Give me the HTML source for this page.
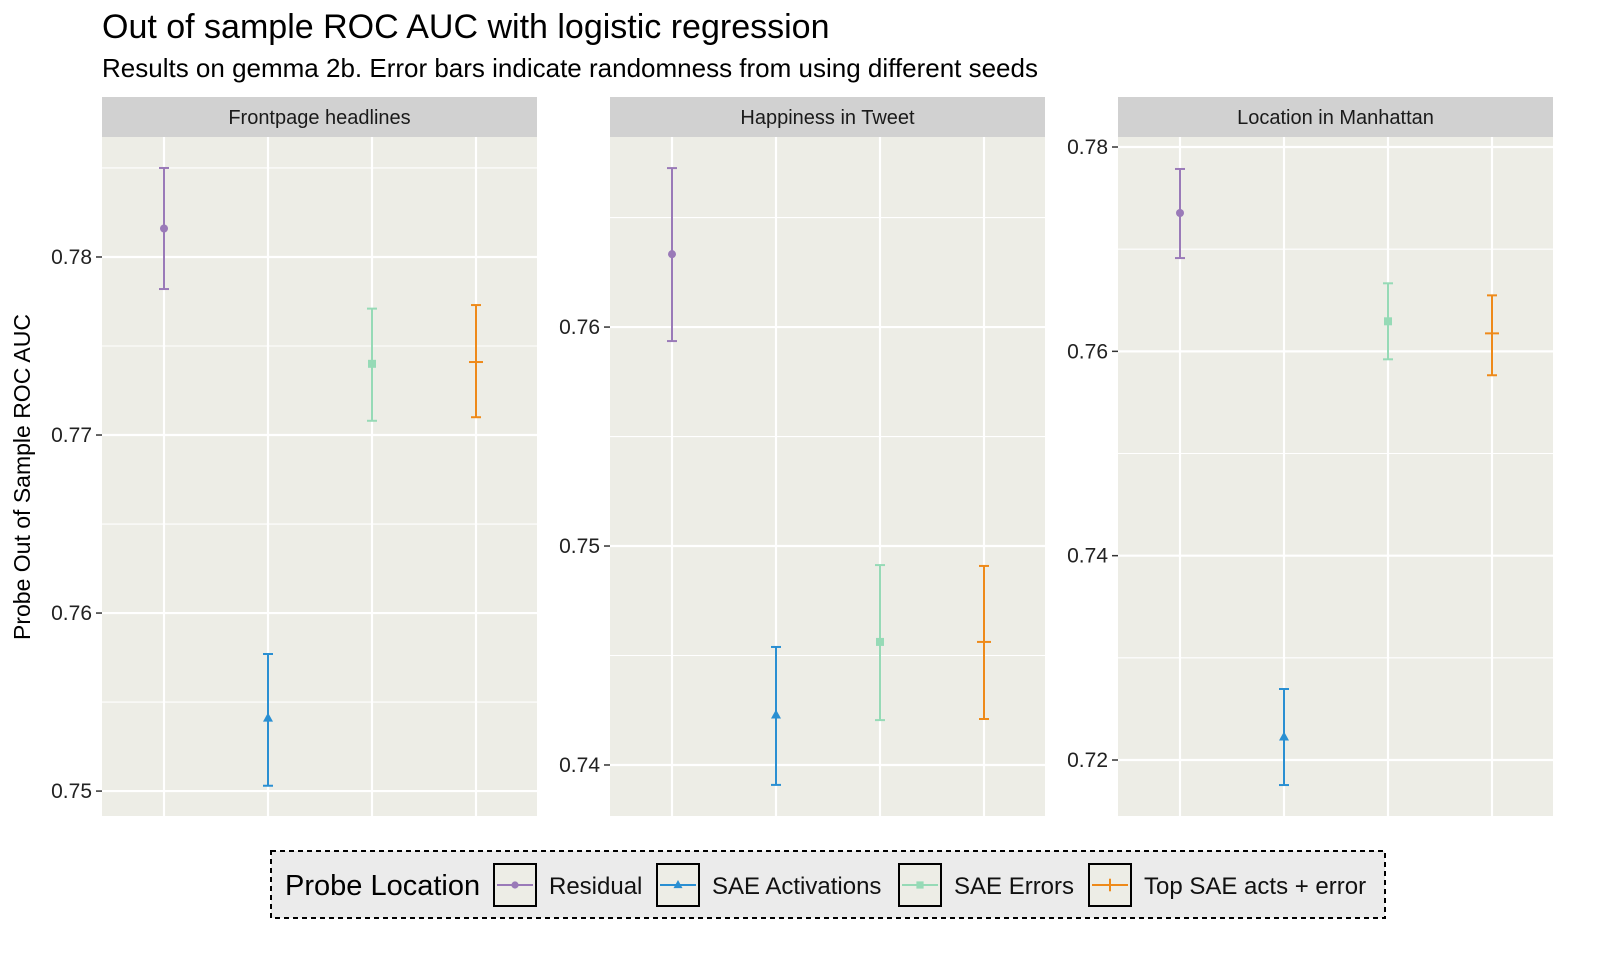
<!DOCTYPE html>
<html><head><meta charset="utf-8"><style>
body{margin:0;background:#fff;font-family:"Liberation Sans",Arial,sans-serif;}
svg text{font-family:"Liberation Sans",Arial,sans-serif;}
</style></head><body>
<svg id="chart" width="1600" height="951" xmlns="http://www.w3.org/2000/svg">
<text x="102" y="38" font-size="34" fill="#000">Out of sample ROC AUC with logistic regression</text>
<text x="102" y="77" font-size="26" fill="#000">Results on gemma 2b. Error bars indicate randomness from using different seeds</text>
<text transform="translate(30,477) rotate(-90)" text-anchor="middle" font-size="23" fill="#000">Probe Out of Sample ROC AUC</text>
<g id="panels"></g>
<g>
<rect x="271" y="851" width="1114" height="67" fill="#ebebeb" stroke="#000" stroke-width="2" stroke-dasharray="5,4"/>
<text x="285" y="895" font-size="29">Probe Location</text>
<g id="legend-keys"></g>
</g>
</svg>
<script>
const facets=["Frontpage headlines","Happiness in Tweet","Location in Manhattan"];
const series=["Residual","SAE Activations","SAE Errors","Top SAE acts + error"];
const colors=["#9a7ab8","#2a8fd2","#96dab6","#ee8a1a"];
const means=[[0.7816,0.7541,0.7740,0.7741],[0.76333,0.74228,0.74562,0.74562],[0.77354,0.72225,0.76294,0.76176]];
const lows=[[0.7782,0.7503,0.7708,0.7710],[0.75936,0.73909,0.74205,0.7421],[0.76913,0.71755,0.75922,0.75766]];
const highs=[[0.7850,0.7577,0.7771,0.7773],[0.76726,0.74539,0.74913,0.74909],[0.77785,0.72695,0.76666,0.76548]];
const yRanges=[[0.7486,0.78674],[0.73767,0.76868],[0.71452,0.78098]];
const yTicks=[[0.75,0.76,0.77,0.78],[0.74,0.75,0.76],[0.72,0.74,0.76,0.78]];
const yTickLabels=[["0.75","0.76","0.77","0.78"],["0.74","0.75","0.76"],["0.72","0.74","0.76","0.78"]];
const NS="http://www.w3.org/2000/svg";
function mk(tag,attrs,parent){const e=document.createElementNS(NS,tag);for(const k in attrs)e.setAttribute(k,attrs[k]);parent.appendChild(e);return e;}
function marker(g,i,x,y,c,s){
  if(i===0){mk("circle",{cx:x,cy:y,r:4*s,fill:c},g);}
  else if(i===1){mk("polygon",{points:`${x},${y-5.5*s} ${x-5*s},${y+3.5*s} ${x+5*s},${y+3.5*s}`,fill:c},g);}
  else if(i===2){mk("rect",{x:x-4*s,y:y-4*s,width:8*s,height:8*s,fill:c},g);}
  else {mk("line",{x1:x-7*s,y1:y,x2:x+7*s,y2:y,stroke:c,"stroke-width":2},g);mk("line",{x1:x,y1:y-7*s,x2:x,y2:y+7*s,stroke:c,"stroke-width":2},g);}
}
const panelsG=document.getElementById("panels");
const px0=[102,610,1118],pw=435,pTop=137,pBot=816;
facets.forEach((f,p)=>{
  const g=mk("g",{},panelsG);
  
  
  const x0=px0[p];
  const lo=yRanges[p][0],hi=yRanges[p][1];
  const yS=v=>pBot-(v-lo)/(hi-lo)*(pBot-pTop);
  const xS=i=>x0+62+i*104;
  mk("rect",{x:x0,y:pTop,width:pw,height:pBot-pTop,fill:"#edede6"},g);
  const strip=mk("rect",{x:x0,y:97,width:pw,height:40,fill:"#d1d1d1"},g);
  
  
  const st=mk("text",{x:x0+pw/2,y:124,"text-anchor":"middle","font-size":20,fill:"#1a1a1a"},g);st.textContent=f;
  
  
  const tk=yTicks[p];const step=tk[1]-tk[0];
  for(let v=tk[0]-step/2;v<=hi;v+=step/2){
    if(v<lo)continue;const y=yS(v);
    const major=tk.some(t=>Math.abs(t-v)<1e-9);
    mk("line",{x1:x0,x2:x0+pw,y1:y,y2:y,stroke:"#fff","stroke-width":major?2.2:1.1},g);
  }
  series.forEach((s,i)=>mk("line",{x1:xS(i),x2:xS(i),y1:pTop,y2:pBot,stroke:"#fff","stroke-width":2.2},g));
  tk.forEach((t,k)=>{const y=yS(t);
    mk("line",{x1:x0-6,x2:x0,y1:y,y2:y,stroke:"#333","stroke-width":1.5},g);
    const tt=mk("text",{x:x0-10,y:y+7,"text-anchor":"end","font-size":21,fill:"#222"},g);tt.textContent=yTickLabels[p][k];
    
    
  });
  series.forEach((s,i)=>{
    const x=xS(i),c=colors[i];
    const eb=mk("g",{},g);
    
    
    const yl=yS(lows[p][i]),yh=yS(highs[p][i]);
    mk("line",{x1:x,x2:x,y1:yl,y2:yh,stroke:c,"stroke-width":2},eb);
    mk("line",{x1:x-5,x2:x+5,y1:yl,y2:yl,stroke:c,"stroke-width":2},eb);
    mk("line",{x1:x-5,x2:x+5,y1:yh,y2:yh,stroke:c,"stroke-width":2},eb);
    const pt=mk("g",{},g);
    
    
    marker(pt,i,x,yS(means[p][i]),c,1);
  });
});
const lk=document.getElementById("legend-keys");
const keyX=[494,657,899,1089],labX=[549,712,954,1144];
series.forEach((s,i)=>{
  const g=mk("g",{},lk);
  
  
  const x=keyX[i];
  mk("rect",{x:x,y:864,width:42,height:42,fill:"#edede6",stroke:"#000","stroke-width":2},g);
  mk("line",{x1:x+3,x2:x+39,y1:885,y2:885,stroke:colors[i],"stroke-width":2},g);
  marker(g,i,x+21,885,colors[i],0.9);
  const t=mk("text",{x:labX[i],y:894,"font-size":24,fill:"#111"},g);t.textContent=s;
});
</script>
</body></html>
